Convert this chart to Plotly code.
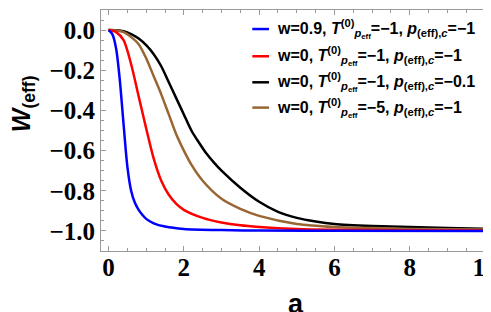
import plotly.graph_objects as go

# ---- data ----
blue_x = [0, 0.1, 0.2, 0.3, 0.4, 0.5, 0.6, 0.7, 0.8, 0.9, 1.0, 1.2, 1.5, 2.0, 3.0, 4.0, 6.0, 10.0]
blue_y = [0, -0.02, -0.09, -0.25, -0.47, -0.68, -0.80, -0.86, -0.895, -0.92, -0.94, -0.962, -0.978, -0.99, -0.996, -0.998, -0.999, -1.0]

red_x = [0, 0.2, 0.4, 0.6, 0.8, 1.0, 1.2, 1.4, 1.6, 1.8, 2.0, 2.5, 3.0, 3.5, 4.0, 5.0, 6.0, 8.0, 10.0]
red_y = [0, -0.01, -0.05, -0.17, -0.33, -0.49, -0.64, -0.75, -0.82, -0.865, -0.895, -0.935, -0.958, -0.972, -0.98, -0.99, -0.994, -0.997, -0.998]

black_x = [0, 0.2, 0.4, 0.6, 0.8, 1.0, 1.2, 1.4, 1.6, 1.8, 2.0, 2.2, 2.4, 2.6, 2.8, 3.0, 3.5, 4.0, 4.5, 5.0, 5.5, 6.0, 7.0, 8.0, 9.0, 10.0]
black_y = [0, -0.001, -0.006, -0.02, -0.042, -0.075, -0.12, -0.18, -0.26, -0.34, -0.42, -0.50, -0.56, -0.615, -0.66, -0.70, -0.785, -0.855, -0.905, -0.935, -0.953, -0.965, -0.975, -0.981, -0.986, -0.99]

brown_x = [0, 0.2, 0.4, 0.6, 0.8, 1.0, 1.2, 1.4, 1.6, 1.8, 2.0, 2.2, 2.5, 3.0, 3.5, 4.0, 5.0, 6.0, 7.0, 8.0, 10.0]
brown_y = [0, -0.002, -0.01, -0.035, -0.07, -0.14, -0.23, -0.32, -0.42, -0.52, -0.60, -0.67, -0.75, -0.84, -0.89, -0.925, -0.965, -0.98, -0.986, -0.99, -0.993]

series_labels = [
    "w=0.9, <i>T</i><sup>(0)</sup><sub><i>p</i><sub>eff</sub></sub>=\u22121, <i>p</i><sub>(eff),<i>c</i></sub>=\u22121",
    "w=0, <i>T</i><sup>(0)</sup><sub><i>p</i><sub>eff</sub></sub>=\u22121, <i>p</i><sub>(eff),<i>c</i></sub>=\u22121",
    "w=0, <i>T</i><sup>(0)</sup><sub><i>p</i><sub>eff</sub></sub>=\u22121, <i>p</i><sub>(eff),<i>c</i></sub>=\u22120.1",
    "w=0, <i>T</i><sup>(0)</sup><sub><i>p</i><sub>eff</sub></sub>=\u22125, <i>p</i><sub>(eff),<i>c</i></sub>=\u22121",
]
series_colors = ["#0000FF", "#FF0000", "#000000", "#996633"]

x_tickvals = [0, 2, 4, 6, 8, 10]
x_ticktext = ["0", "2", "4", "6", "8", "10"]
y_tickvals = [0.0, -0.2, -0.4, -0.6, -0.8, -1.0]
y_ticktext = ["0.0", "\u22120.2", "\u22120.4", "\u22120.6", "\u22120.8", "\u22121.0"]

xs = [blue_x, red_x, black_x, brown_x]
ys = [blue_y, red_y, black_y, brown_y]

fig = go.Figure()
order = [2, 3, 1, 0]
for i in order:
    fig.add_trace(go.Scatter(
        x=xs[i], y=ys[i], mode="lines",
        line=dict(color=series_colors[i], width=2.5, shape="spline", smoothing=0.8),
        name=series_labels[i], showlegend=False, hoverinfo="skip"))

frame_col = "#9a9a9a"
tickfont = dict(family="Liberation Serif", size=25, color="black")

fig.update_xaxes(
    range=[-0.2, 10.13], tickvals=x_tickvals, ticktext=["<b>%s</b>" % t for t in x_ticktext],
    ticks="inside", ticklen=5, tickcolor=frame_col, tickwidth=1,
    minor=dict(dtick=0.5, ticks="inside", ticklen=3, tickcolor=frame_col),
    showline=True, linecolor=frame_col, linewidth=1, mirror="allticks",
    showgrid=False, zeroline=False, tickfont=tickfont,
    ticklabeloverflow="allow", ticklabelstandoff=-6)
fig.update_yaxes(
    range=[-1.1, 0.1], tickvals=y_tickvals, ticktext=["<b>%s</b>" % t for t in y_ticktext],
    ticks="inside", ticklen=5, tickcolor=frame_col, tickwidth=1,
    minor=dict(dtick=0.05, tick0=0, ticks="inside", ticklen=3, tickcolor=frame_col),
    showline=True, linecolor=frame_col, linewidth=1, mirror="allticks",
    showgrid=False, zeroline=False, tickfont=tickfont)

# manual legend (line samples + labels)
leg_rows_y = [0.921, 0.808, 0.700, 0.595]
for i in range(4):
    fig.add_shape(type="line", xref="paper", yref="paper",
                  x0=0.389, x1=0.432, y0=leg_rows_y[i], y1=leg_rows_y[i],
                  line=dict(color=series_colors[i], width=2.5))
    fig.add_annotation(xref="paper", yref="paper", x=0.4476, y=leg_rows_y[i],
                       xanchor="left", yanchor="middle", showarrow=False,
                       text="<b>" + series_labels[i] + "</b>",
                       font=dict(family="Liberation Sans", size=16, color="black"))

# axis titles
fig.add_annotation(xref="paper", yref="paper", x=0.5, y=-0.219, xanchor="center", yanchor="middle",
                   showarrow=False, text="<b>a</b>",
                   font=dict(family="Liberation Sans", size=27, color="black"))
fig.add_annotation(xref="paper", yref="paper", x=-0.2, y=0.61, xanchor="center", yanchor="middle",
                   showarrow=False, textangle=-90, text="<b><i>W</i><sub>(eff)</sub></b>",
                   font=dict(family="Liberation Sans", size=25, color="black"))

fig.update_layout(
    width=491, height=312,
    margin=dict(l=93, r=7, t=1, b=69),
    paper_bgcolor="white", plot_bgcolor="white",
    showlegend=False)

fig.write_html("out.html")
